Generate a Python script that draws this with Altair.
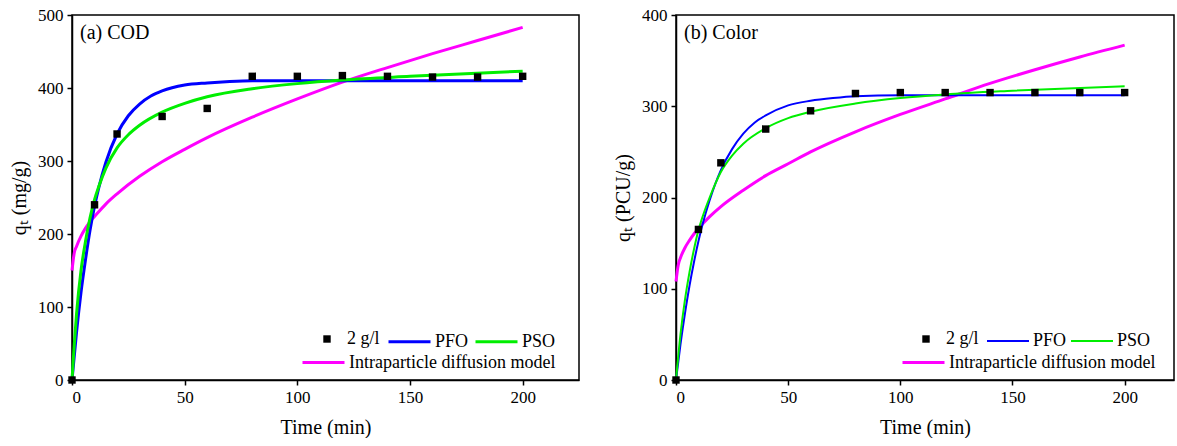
import altair as alt
import pandas as pd

# ---------------- data ----------------
# Panel (a) COD
a_pts_t = [0, 10, 20, 40, 60, 80, 100, 120, 140, 160, 180, 200]
a_pts_q = [0, 240, 337, 361, 372, 416, 416, 417, 416, 415, 415, 416]

a_pfo_t = [0, 2, 4, 6, 8, 10, 12, 15, 20, 25, 30, 35, 40, 50, 60, 70, 80, 100, 150, 200]
a_pfo_q = [0, 65, 120, 165, 205, 238, 265, 298, 337, 362, 378, 389, 396, 404, 407, 409, 410, 410, 410, 410]

a_pso_t = [0, 1, 2, 4, 6, 8, 10, 12, 15, 20, 25, 30, 40, 50, 60, 80, 100, 120, 150, 200]
a_pso_q = [0, 48, 90, 150, 190, 222, 247, 266, 290, 318, 336, 349, 367, 379, 388, 399, 406, 411, 416, 423]

a_ipd_t = [0, 1, 2, 4, 6, 8, 10, 15, 20, 30, 40, 50, 60, 80, 100, 120, 140, 160, 180, 200]
a_ipd_q = [150, 174, 183, 197, 208, 217, 224, 241, 255, 279, 299, 316, 332, 360, 385, 408, 428, 447, 465, 483]

# Panel (b) Color
b_pts_t = [0, 10, 20, 40, 60, 80, 100, 120, 140, 160, 180, 200]
b_pts_q = [0, 165, 238, 275, 295, 314, 315, 315, 315, 315, 315, 315]

b_pfo_t = [0, 2, 4, 6, 8, 10, 12, 15, 20, 25, 30, 35, 40, 50, 60, 70, 80, 100, 150, 200]
b_pfo_q = [0, 39, 73, 103, 129, 152, 172, 197, 230, 253, 270, 282, 290, 301, 306, 309, 311, 312, 312, 312]

b_pso_t = [0, 2, 4, 6, 8, 10, 12, 15, 20, 25, 30, 40, 50, 60, 80, 100, 120, 150, 200]
b_pso_q = [0, 50, 88, 118, 143, 164, 180, 200, 228, 246, 259, 276, 287, 294, 303, 309, 313, 317, 322]

b_ipd_t = [0, 1, 2, 4, 6, 8, 10, 15, 20, 30, 40, 50, 60, 80, 100, 120, 140, 160, 180, 200]
b_ipd_q = [108, 126, 134, 145, 153, 160, 166, 179, 190, 208, 224, 237, 250, 272, 291, 308, 325, 340, 354, 367]

POINT_NAME = "2 g/l"
FIT_NAMES = ["PFO", "PSO"]
IPD_NAME = "Intraparticle diffusion model"
FIT_COLORS = ["#0000FF", "#00EE00"]
IPD_COLOR = "#FF00FF"

FONT = "Liberation Serif"
LEG_FS = 18


def panel(label, ytitle, ymax, xmax, width, pts_t, pts_q, pfo_t, pfo_q, pso_t, pso_q,
          ipd_t, ipd_q, fit_width, leg_x):
    sx, fx, ix = leg_x
    pts = pd.DataFrame({"t": pts_t, "q": pts_q, "series": POINT_NAME})
    fits = pd.concat([
        pd.DataFrame({"t": pfo_t, "q": pfo_q, "series": "PFO"}),
        pd.DataFrame({"t": pso_t, "q": pso_q, "series": "PSO"}),
    ])
    ipd = pd.DataFrame({"t": ipd_t, "q": ipd_q, "series": IPD_NAME})

    x = alt.X("t:Q", title="Time (min)",
              scale=alt.Scale(domain=[0, xmax], nice=False, zero=False),
              axis=alt.Axis(values=[0, 50, 100, 150, 200], format="d"))
    y = alt.Y("q:Q", title=ytitle,
              scale=alt.Scale(domain=[0, ymax], nice=False),
              axis=alt.Axis(values=list(range(0, ymax + 1, 100)), format="d"))

    common = dict(title=None, orient="none", direction="horizontal", padding=0,
                  labelFont=FONT, labelFontSize=LEG_FS, labelColor="black", labelLimit=0)

    fit_layer = alt.Chart(fits).mark_line(strokeWidth=fit_width, interpolate="monotone").encode(
        x=x, y=y,
        color=alt.Color("series:N",
                        scale=alt.Scale(domain=FIT_NAMES, range=FIT_COLORS),
                        legend=alt.Legend(legendX=fx, legendY=304, symbolType="stroke",
                                          symbolSize=1764, symbolStrokeWidth=fit_width,
                                          labelOffset=3, columnPadding=0, **common)),
    )
    ipd_layer = alt.Chart(ipd).mark_line(strokeWidth=3, interpolate="monotone").encode(
        x=x, y=y,
        stroke=alt.Stroke("series:N",
                          scale=alt.Scale(domain=[IPD_NAME], range=[IPD_COLOR]),
                          legend=alt.Legend(legendX=ix, legendY=325, symbolType="stroke",
                                            symbolSize=1764, symbolStrokeWidth=3,
                                            labelOffset=3, **common)),
    )
    pt_layer = alt.Chart(pts).mark_point(filled=True, color="black", size=55, opacity=1).encode(
        x=x, y=y,
        shape=alt.Shape("series:N",
                        scale=alt.Scale(domain=[POINT_NAME], range=["square"]),
                        legend=alt.Legend(legendX=sx, legendY=315, symbolSize=55,
                                          symbolFillColor="black", symbolStrokeColor="black",
                                          labelOffset=11, **common)),
    )
    lab = alt.Chart(pd.DataFrame({"txt": [label]})).mark_text(
        align="left", baseline="middle", font=FONT, fontSize=20, color="black"
    ).encode(text="txt:N", x=alt.value(8), y=alt.value(18))

    return alt.layer(ipd_layer, fit_layer, pt_layer, lab).resolve_scale(
        color="independent", stroke="independent", shape="independent"
    ).properties(width=width, height=365)


pa = panel("(a) COD", "qₜ (mg/g)", 500, 225, 507, a_pts_t, a_pts_q, a_pfo_t, a_pfo_q,
           a_pso_t, a_pso_q, a_ipd_t, a_ipd_q, 3, (246, 315, 229))
pb = panel("(b) Color", "qₜ (PCU/g)", 400, 222, 498, b_pts_t, b_pts_q, b_pfo_t, b_pfo_q,
           b_pso_t, b_pso_q, b_ipd_t, b_ipd_q, 2, (241, 310, 225))

chart = alt.hconcat(pa, pb, spacing=32).resolve_scale(
    color="independent", stroke="independent", shape="independent", x="independent", y="independent"
).resolve_legend(
    color="independent", stroke="independent", shape="independent"
).properties(
    padding={"left": 8, "top": 5, "right": 0, "bottom": 0},
    background="white",
).configure_view(
    stroke="black", strokeWidth=1.5
).configure_axis(
    grid=False, domainColor="black", domainWidth=1.5, tickColor="black", tickWidth=1.5,
    tickSize=5, labelFont=FONT, labelFontSize=17, labelColor="black", labelPadding=4,
    titleFont=FONT, titleFontSize=20, titleFontWeight="normal", titleColor="black",
).configure_axisX(titlePadding=12).configure_axisY(titlePadding=8)

chart.save("out.html", embed_options={"renderer": "svg", "actions": False})
